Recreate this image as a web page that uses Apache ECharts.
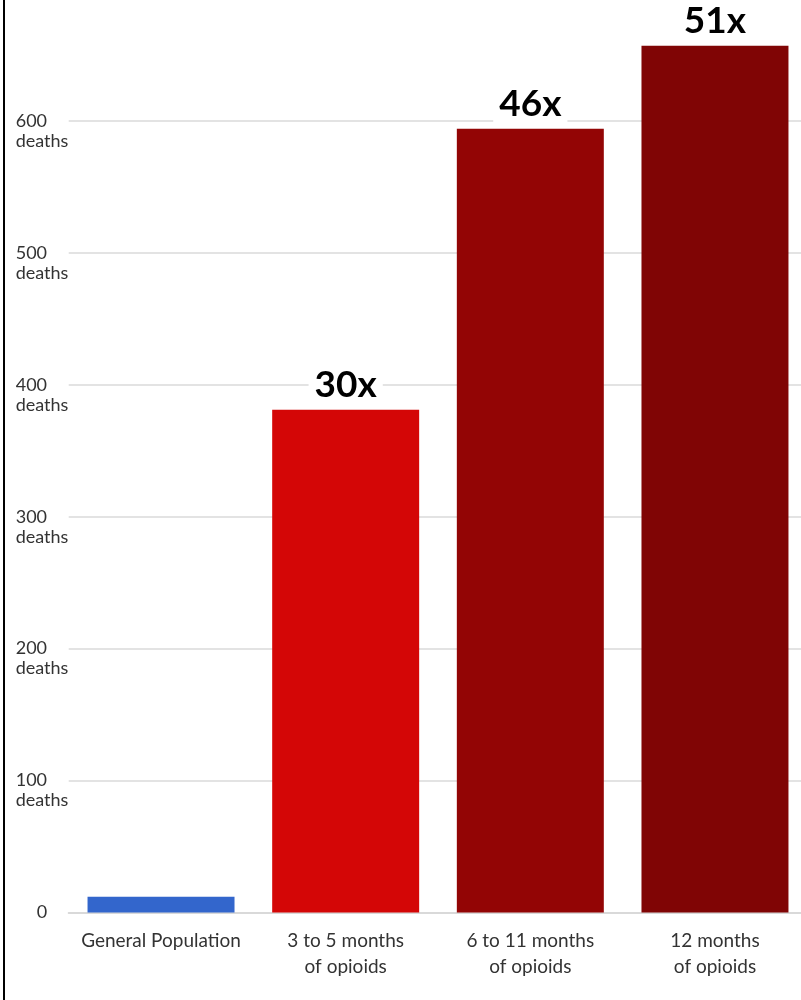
<!DOCTYPE html>
<html>
<head>
<meta charset="utf-8">
<script src="https://cdn.jsdelivr.net/npm/echarts@6/dist/echarts.min.js"></script>
<style>
html,body{margin:0;padding:0;background:#fff;overflow:hidden;}
#wrap{position:relative;width:801px;height:1000px;overflow:hidden;}
#chart{position:absolute;left:0;top:-11px;width:808px;height:1011px;}
</style>
</head>
<body>
<div id="wrap"><div id="chart"></div></div>
<script>
const categories = ['General Population', '3 to 5 months\nof opioids', '6 to 11 months\nof opioids', '12 months\nof opioids'];
const deaths = [12, 381, 594, 657];
const multipliers = ['', '30x', '46x', '51x'];
const barColors = ['#3366cc', '#d40606', '#930505', '#800505'];

const chart = echarts.init(document.getElementById('chart'));
chart.setOption({
  animation: false,
  backgroundColor: '#fff',
  grid: { left: 68.7, right: 0.7, top: 0, bottom: 87.5 },
  xAxis: {
    type: 'category',
    data: categories,
    axisTick: { show: false },
    axisLine: { show: true, lineStyle: { color: '#d9d9d9', width: 2 } },
    axisLabel: {
      interval: 0,
      color: '#333',
      fontFamily: 'Lato',
      fontSize: 19,
      lineHeight: 26,
      margin: 15
    }
  },
  yAxis: {
    type: 'value',
    min: 0,
    max: 700,
    interval: 100,
    axisLine: { show: false },
    axisTick: { show: false },
    splitLine: { lineStyle: { color: '#e3e3e3', width: 2 } },
    axisLabel: {
      align: 'left',
      margin: 53,
      formatter: function (v) {
        if (v === 0) return '{z|0}';
        if (v >= 700) return '';
        return '{e| }\n{a|' + v + '}\n{a|deaths}';
      },
      rich: {
        a: { fontFamily: 'Lato', fontSize: 18, lineHeight: 20, color: '#333' },
        e: { fontFamily: 'Lato', fontSize: 18, lineHeight: 20 },
        z: { fontFamily: 'Lato', fontSize: 18, lineHeight: 20, color: '#333', padding: [0, 0, 0, 21] }
      }
    }
  },
  series: [{
    type: 'bar',
    barCategoryGap: '20.4%',
    data: deaths.map((v, i) => ({
      value: v,
      itemStyle: { color: barColors[i] },
      label: {
        show: multipliers[i] !== '',
        formatter: multipliers[i]
      }
    })),
    label: {
      position: 'top',
      distance: 6,
      color: '#000',
      fontFamily: 'Lato',
      fontWeight: 'bold',
      fontSize: 37,
      backgroundColor: '#fff',
      padding: [0, 6, 0, 6]
    }
  }],
  graphic: [{
    type: 'line',
    shape: { x1: 4, y1: 0, x2: 4, y2: 1011 },
    style: { stroke: '#000', lineWidth: 2 }
  }]
});
</script>
</body>
</html>
